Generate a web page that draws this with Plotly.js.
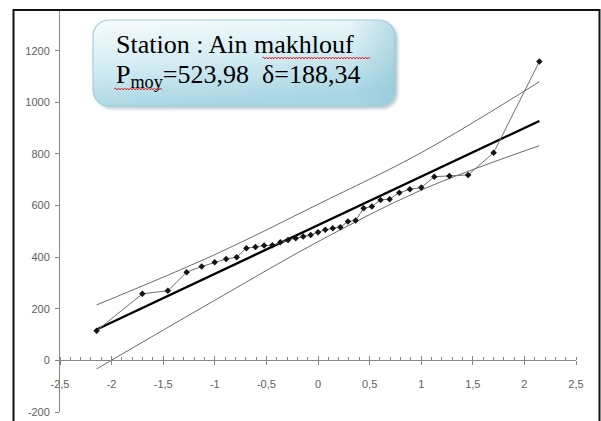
<!DOCTYPE html>
<html><head><meta charset="utf-8">
<script src="https://cdn.plot.ly/plotly-3.0.1.min.js"></script>
<style>html,body{margin:0;padding:0;background:#fff;}#chart{width:601px;height:421px;}</style>
</head><body><div id="chart"></div>
<script>
// Observed annual rainfall (sorted) vs. reduced normal variable u
const uObs = [-2.145,-1.702,-1.455,-1.273,-1.127,-1.001,-0.890,-0.788,-0.694,-0.606,-0.522,-0.442,-0.365,-0.290,-0.216,-0.143,-0.071,0,
              0.071,0.143,0.216,0.290,0.365,0.442,0.522,0.606,0.694,0.788,0.890,1.001,1.127,1.273,1.455,1.702,2.145];
const pObs = [115,258,270,342,364,380,393,400,435,439,445,446,458,467,473,480,486,497,
              506,512,516,538,542,590,596,622,625,650,663,670,712,715,719,805,1158];
// Fitted Gauss line
const uFit = [-2.145, 2.145];
const pFit = [120, 928];
// Confidence limits
const uBand = [-2.145, -1, 0, 1, 2.145];
const pUpper = [215, 410, 605, 805, 1080];
const pLower = [-33, 233, 460, 660, 832];

const xTickVals = [-2.5,-2,-1.5,-1,-0.5,0,0.5,1,1.5,2,2.5];
const xTickText = ['-2,5','-2','-1,5','-1','-0,5','0','0,5','1','1,5','2','2,5'];
const yTickVals = [-200,0,200,400,600,800,1000,1200];
const yTickText = ['-200','0','200','400','600','800','1000','1200'];

const boxLine1 = 'Station : Ain makhlouf';
const boxLine2 = 'P<sub>moy</sub>=523,98\u00a0 δ=188,34';

const X_RANGE = [-2.5, 2.5];
const Y_RANGE = [-200, 1358];
const W = 601, H = 421;
const M = {l:60, r:25, t:10, b:9};
const PW = W - M.l - M.r, PH = H - M.t - M.b;
const px = v => (v - M.l) / PW;          // pixel x -> paper
const py = v => (H - M.b - v) / PH;      // pixel y -> paper
const xAxisPos = (0 - Y_RANGE[0]) / (Y_RANGE[1] - Y_RANGE[0]);

function wavy(x0, x1, y) {
  let d = 'M' + px(x0) + ',' + py(y);
  let up = true;
  for (let x = x0 + 1.5; x <= x1; x += 1.5) {
    d += ' L' + px(x) + ',' + py(y + (up ? -1 : 1));
    up = !up;
  }
  return d;
}

const boxSvg = '<svg xmlns="http://www.w3.org/2000/svg" width="310" height="95" viewBox="0 0 310 95">' +
  '<defs><linearGradient id="g" x1="0" y1="0" x2="0.25" y2="1">' +
  '<stop offset="0" stop-color="#f7fcfd"/><stop offset="0.5" stop-color="#d6edf4"/><stop offset="1" stop-color="#aad6e4"/></linearGradient>' +
  '<linearGradient id="h" x1="0" y1="0" x2="1" y2="0"><stop offset="0.85" stop-color="#8cc3d4" stop-opacity="0"/><stop offset="1" stop-color="#8cc3d4" stop-opacity="0.5"/></linearGradient>' +
  '<filter id="s" x="-10%" y="-10%" width="120%" height="130%"><feGaussianBlur stdDeviation="1.6"/></filter></defs>' +
  '<rect x="4" y="4" width="302" height="86" rx="16" fill="#6f8f9a" opacity="0.45" filter="url(#s)"/>' +
  '<rect x="1" y="1" width="302" height="86" rx="16" fill="url(#g)" stroke="#9fcddb" stroke-width="1.2"/>' +
  '<rect x="1" y="1" width="302" height="86" rx="16" fill="url(#h)"/>' +
  '</svg>';

const traces = [
  {x: uBand, y: pUpper, mode: 'lines', line: {color: '#6b6b6b', width: 1, shape: 'spline', smoothing: 1}, hoverinfo: 'skip', showlegend: false},
  {x: uBand, y: pLower, mode: 'lines', line: {color: '#6b6b6b', width: 1, shape: 'spline', smoothing: 1}, hoverinfo: 'skip', showlegend: false},
  {x: uFit, y: pFit, mode: 'lines', line: {color: '#000000', width: 2.3}, hoverinfo: 'skip', showlegend: false},
  {x: uObs, y: pObs, mode: 'lines+markers', line: {color: '#707070', width: 1},
   marker: {symbol: 'diamond', size: 5, color: '#141414'}, hoverinfo: 'skip', showlegend: false},
  {x: [0], y: [0], xaxis: 'x2', yaxis: 'y', mode: 'markers', marker: {opacity: 0}, hoverinfo: 'skip', showlegend: false}
];

const axisGray = '#868686';
const tickFont = {family: 'Liberation Sans, Arial, sans-serif', size: 11, color: '#606060'};

const layout = {
  width: W, height: H,
  margin: M,
  paper_bgcolor: '#ffffff',
  plot_bgcolor: 'rgba(0,0,0,0)',
  showlegend: false,
  xaxis: {
    range: X_RANGE, anchor: 'free', position: xAxisPos,
    showline: true, linecolor: axisGray, linewidth: 1,
    showgrid: false, zeroline: false,
    tickmode: 'array', tickvals: xTickVals, ticktext: xTickText,
    ticks: 'outside', ticklen: 4, tickcolor: axisGray, tickwidth: 1,
    ticklabelstandoff: 9,
    tickfont: tickFont,
    minor: {dtick: 0.1, tick0: 0, ticks: 'inside', ticklen: 3, tickcolor: axisGray, showgrid: false}
  },
  xaxis2: {
    range: X_RANGE, overlaying: 'x', anchor: 'free', position: xAxisPos,
    showline: false, showgrid: false, zeroline: false, showticklabels: false,
    tickmode: 'array', tickvals: xTickVals,
    ticks: 'inside', ticklen: 4, tickcolor: axisGray, tickwidth: 1
  },
  yaxis: {
    range: Y_RANGE,
    showline: true, linecolor: axisGray, linewidth: 1,
    showgrid: false, zeroline: false,
    tickmode: 'array', tickvals: yTickVals, ticktext: yTickText,
    ticks: 'outside', ticklen: 4, tickcolor: axisGray, tickwidth: 1,
    ticklabelstandoff: 3,
    tickfont: tickFont
  },
  images: [{
    source: 'data:image/svg+xml;charset=utf-8,' + encodeURIComponent(boxSvg),
    xref: 'paper', yref: 'paper',
    x: px(92), y: py(19), sizex: 310 / PW, sizey: 95 / PH,
    xanchor: 'left', yanchor: 'top', sizing: 'stretch', layer: 'below'
  }],
  annotations: [
    {text: boxLine1, xref: 'paper', yref: 'paper', x: px(114), y: py(28), xanchor: 'left', yanchor: 'top',
     showarrow: false, font: {family: 'Liberation Serif, Times New Roman, serif', size: 26, color: '#000000'}},
    {text: boxLine2, xref: 'paper', yref: 'paper', x: px(114), y: py(58), xanchor: 'left', yanchor: 'top',
     showarrow: false, font: {family: 'Liberation Serif, Times New Roman, serif', size: 26, color: '#000000'}}
  ],
  shapes: [
    {type: 'rect', xref: 'paper', yref: 'paper', x0: px(13.5), x1: px(599.5), y0: py(440), y1: py(10),
     line: {color: '#111111', width: 2}, fillcolor: 'rgba(0,0,0,0)'},
    {type: 'path', xref: 'paper', yref: 'paper', path: wavy(262, 370, 58), line: {color: '#e0302a', width: 1}},
    {type: 'path', xref: 'paper', yref: 'paper', path: wavy(114, 163, 89), line: {color: '#e0302a', width: 1}}
  ]
};

Plotly.newPlot('chart', traces, layout, {staticPlot: true, displayModeBar: false});
</script>
</body></html>
